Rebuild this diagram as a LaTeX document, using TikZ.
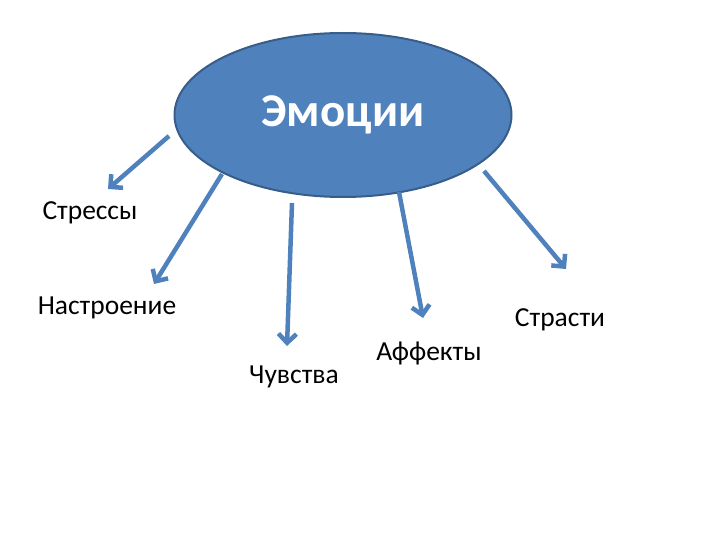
\documentclass[tikz,border=0pt]{standalone}
\usepackage{fontspec}
\setmainfont{Carlito}
\usetikzlibrary{arrows.meta,shapes.geometric}
\definecolor{emoblue}{HTML}{4F81BD}
\definecolor{emoedge}{HTML}{385D8A}
\tikzset{
  kind/.style={font=\fontsize{27.5}{31}\selectfont, inner sep=0pt},
  branch/.style={draw=emoblue, line width=4.5pt,
    -{Straight Barb[length=9pt,width=18pt,line width=4.5pt]}}
}

\begin{document}
\begin{tikzpicture}[x=1pt,y=-1pt]
\useasboundingbox (0,0) rectangle (720,540);
\node[ellipse, fill=emoblue, draw=emoedge, line width=2pt,
  minimum width=337pt, minimum height=164pt, inner sep=0pt,
  text=white, font=\fontsize{47}{51}\selectfont\bfseries] (emotions) at (343,115) {Эмоции};

\node[kind] (stress) at (90,213) {Стрессы};
\node[kind] (mood) at (107,308) {Настроение};
\node[kind] (feelings) at (294,377) {Чувства};
\node[kind] (affects) at (429,353) {Аффекты};
\node[kind] (passions) at (560,320) {Страсти};

\coordinate (s1) at (169,136);
\coordinate (e1) at (108,189);
\coordinate (s2) at (222,174);
\coordinate (e2) at (154,284);
\coordinate (s3) at (292,203);
\coordinate (e3) at (287,346);
\coordinate (s4) at (399,192);
\coordinate (e4) at (423,318);
\coordinate (s5) at (484,171);
\coordinate (e5) at (566,269);

\draw[branch] (s1) -- (e1);
\draw[branch] (s2) -- (e2);
\draw[branch] (s3) -- (e3);
\draw[branch] (s4) -- (e4);
\draw[branch] (s5) -- (e5);
\end{tikzpicture}
\end{document}
